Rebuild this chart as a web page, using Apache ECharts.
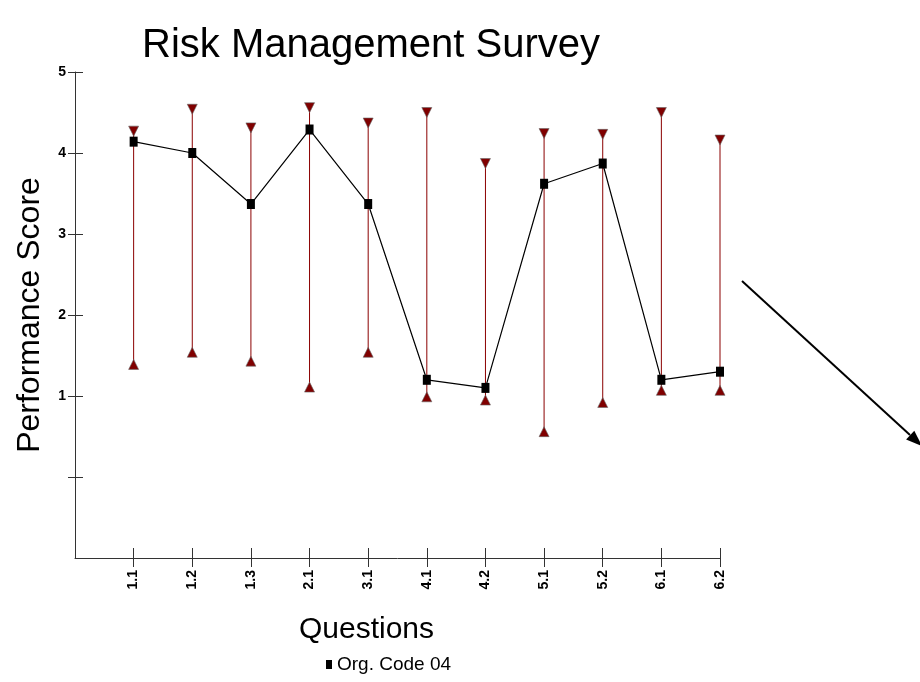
<!DOCTYPE html>
<html>
<head>
<meta charset="utf-8">
<script src="https://cdn.jsdelivr.net/npm/echarts@6/dist/echarts.min.js"></script>
<style>
  html, body { margin: 0; padding: 0; background: #fff; }
  #chart { width: 920px; height: 682px; }
</style>
</head>
<body>
<div id="chart"></div>
<script>
// questions on the x axis
var questions = ['1.1', '1.2', '1.3', '2.1', '3.1', '4.1', '4.2', '5.1', '5.2', '6.1', '6.2'];
// org scores (black squares)
var scores = [4.14, 4.0, 3.37, 4.29, 3.37, 1.2, 1.1, 3.62, 3.87, 1.2, 1.3];
// range high / low (red triangles)
var highs = [4.27, 4.54, 4.31, 4.56, 4.37, 4.50, 3.87, 4.24, 4.23, 4.50, 4.16];
var lows = [1.39, 1.54, 1.43, 1.11, 1.54, 0.99, 0.95, 0.56, 0.92, 1.07, 1.07];
var yTicks = [0, 1, 2, 3, 4, 5];
var yLabels = [1, 2, 3, 4, 5];

var chart = echarts.init(document.getElementById('chart'));

// first category is an empty slot so the axis starts one step left of 1.1
var cats = [''].concat(questions);
var lineData = [null].concat(scores);
var rangeData = [], highData = [], lowData = [];
for (var i = 0; i < questions.length; i++) {
  rangeData.push([i + 1, lows[i], highs[i]]);
  highData.push([i + 1, highs[i]]);
  lowData.push([i + 1, lows[i]]);
}

var fontFam = 'Liberation Sans, Arial, sans-serif';
var skipFirst = function (idx) { return idx > 0; };

var option = {
  backgroundColor: '#fff',
  animation: false,
  title: {
    text: 'Risk Management Survey',
    left: 366, top: 21,
    textAlign: 'center',
    textStyle: { fontFamily: fontFam, fontWeight: 'normal', fontSize: 40, color: '#000' }
  },
  legend: {
    data: ['Org. Code 04'],
    left: 321, top: 650,
    icon: 'rect', itemWidth: 6, itemHeight: 9, itemGap: 4,
    textStyle: { fontFamily: fontFam, fontSize: 19, color: '#000' }
  },
  grid: { left: 75, top: 72, width: 645, height: 486, containLabel: false },
  xAxis: [
    {
      type: 'category', data: cats, boundaryGap: false,
      name: 'Questions', nameLocation: 'middle', nameGap: 57,
      // name sits left of the plot centre in the original
      nameTextStyle: { fontFamily: fontFam, fontSize: 30, color: '#000', padding: [0, 62, 0, 0] },
      axisLine: { onZero: false, lineStyle: { color: '#333', width: 1 } },
      axisTick: { length: 9, interval: skipFirst, lineStyle: { color: '#333' } },
      axisLabel: { interval: skipFirst, rotate: 90, margin: 12, fontFamily: fontFam, fontWeight: 'bold', fontSize: 14, color: '#000' },
      splitLine: { show: false }
    },
    {
      type: 'category', data: cats, boundaryGap: false, position: 'bottom',
      axisLine: { show: false, onZero: false },
      axisTick: { inside: true, length: 10, interval: skipFirst, lineStyle: { color: '#333' } },
      axisLabel: { show: false },
      splitLine: { show: false }
    }
  ],
  yAxis: [
    {
      type: 'value', min: -1, max: 5, interval: 1,
      name: 'Performance Score', nameLocation: 'middle', nameGap: 29,
      nameTextStyle: { fontFamily: fontFam, fontSize: 32, color: '#000' },
      axisLine: { show: true, onZero: false, lineStyle: { color: '#333', width: 1 } },
      axisTick: { show: true, length: 7, customValues: yTicks, lineStyle: { color: '#333' } },
      axisLabel: { customValues: yLabels, margin: 9, fontFamily: fontFam, fontWeight: 'bold', fontSize: 14, color: '#000' },
      splitLine: { show: false }
    },
    {
      type: 'value', min: -1, max: 5, interval: 1, position: 'left',
      axisLine: { show: false, onZero: false },
      axisTick: { show: true, inside: true, length: 8, customValues: yTicks, lineStyle: { color: '#333' } },
      axisLabel: { show: false },
      splitLine: { show: false }
    }
  ],
  series: [
    {
      name: 'range', type: 'custom', silent: true,
      data: rangeData,
      renderItem: function (params, api) {
        var lo = api.coord([api.value(0), api.value(1)]);
        var hi = api.coord([api.value(0), api.value(2)]);
        return {
          type: 'line',
          shape: { x1: lo[0], y1: lo[1], x2: hi[0], y2: hi[1] },
          style: { stroke: '#8b0000', lineWidth: 1 }
        };
      },
      z: 1
    },
    {
      name: 'high', type: 'scatter', data: highData,
      symbol: 'triangle', symbolRotate: 180, symbolSize: [10, 10],
      itemStyle: { color: '#800000', opacity: 1, borderColor: '#666', borderWidth: 0.6 },
      z: 2
    },
    {
      name: 'low', type: 'scatter', data: lowData,
      symbol: 'triangle', symbolSize: [10, 10],
      itemStyle: { color: '#800000', opacity: 1, borderColor: '#666', borderWidth: 0.6 },
      z: 2
    },
    {
      name: 'Org. Code 04', type: 'line', data: lineData,
      symbol: 'rect', symbolSize: [8, 10], showSymbol: true,
      itemStyle: { color: '#000' },
      lineStyle: { color: '#000', width: 1.2 },
      z: 3
    }
  ],
  graphic: [
    {
      type: 'line',
      shape: { x1: 742, y1: 281, x2: 910, y2: 435 },
      style: { stroke: '#000', lineWidth: 2 }
    },
    {
      type: 'polygon',
      shape: { points: [[922, 446], [914.3, 430.8], [906.1, 439.6]] },
      style: { fill: '#000' }
    }
  ]
};

chart.setOption(option);
</script>
</body>
</html>
